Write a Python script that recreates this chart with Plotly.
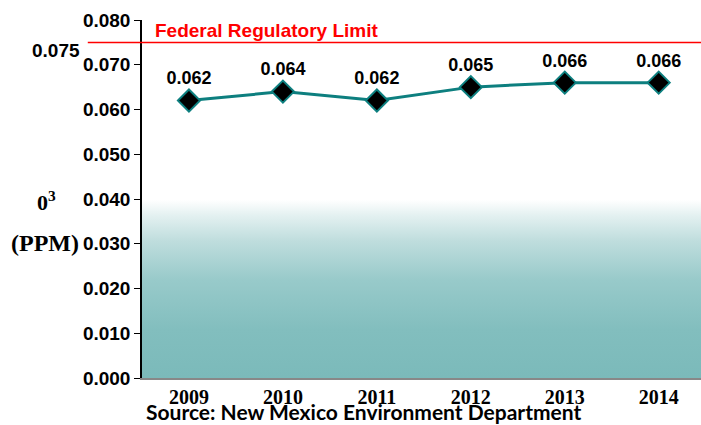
import plotly.graph_objects as go

years = ["2009", "2010", "2011", "2012", "2013", "2014"]
ozone_ppm = [0.062, 0.064, 0.062, 0.065, 0.066, 0.066]
value_labels = ["0.062", "0.064", "0.062", "0.065", "0.066", "0.066"]
limit_value = 0.075
limit_label = "Federal Regulatory Limit"
y_ticks = [0.0, 0.01, 0.02, 0.03, 0.04, 0.05, 0.06, 0.07, 0.08]
y_tick_labels = ["0.000", "0.010", "0.020", "0.030", "0.040", "0.050", "0.060", "0.070", "0.080"]
source_text = "Source: New Mexico Environment Department"

# background gradient band (decoration)
band_top = 0.0398
n = len(years)
x_idx = list(range(n))

fig = go.Figure()

fig.add_trace(go.Scatter(
    x=[-0.5, n - 0.5, n - 0.5, -0.5, -0.5],
    y=[0, 0, band_top, band_top, 0],
    fill="toself",
    mode="none",
    fillgradient=dict(
        type="vertical",
        colorscale=[
            [0.0, "#7bbaba"],
            [0.27, "#82bebe"],
            [0.55, "#98caca"],
            [0.77, "#bfdddd"],
            [0.915, "#e4f1f1"],
            [1.0, "#ffffff"],
        ],
    ),
    hoverinfo="skip",
    showlegend=False,
))

fig.add_trace(go.Scatter(
    x=x_idx,
    y=ozone_ppm,
    mode="lines+markers+text",
    line=dict(color="#0d7f7f", width=3),
    marker=dict(symbol="diamond", size=17, color="black",
                line=dict(color="#0d7f7f", width=2)),
    text=value_labels,
    textposition="top center",
    textfont=dict(family="Liberation Sans", size=18, color="black", weight="bold"),
    hoverinfo="skip",
    showlegend=False,
))

fig.add_shape(type="line", xref="paper", yref="y",
              x0=-0.097, x1=1.0, y0=limit_value, y1=limit_value,
              line=dict(color="#ff0000", width=1.5), layer="above")

fig.add_annotation(text=limit_label, xref="paper", yref="y",
                   x=0.019, y=0.0776, xanchor="left", yanchor="middle",
                   showarrow=False,
                   font=dict(family="Liberation Sans", size=19, color="#ff0000", weight="bold"))

fig.add_annotation(text=f"{limit_value:.3f}", xref="paper", yref="y",
                   x=-0.108, y=0.0731, xanchor="right", yanchor="middle",
                   showarrow=False,
                   font=dict(family="Liberation Sans", size=19, color="black", weight="bold"))

fig.add_annotation(text="0<sup>3</sup>", xref="paper", yref="y",
                   x=-0.17, y=0.0395, xanchor="center", yanchor="middle",
                   showarrow=False,
                   font=dict(family="Liberation Serif", size=22, color="black", weight="bold"))

fig.add_annotation(text="(PPM)", xref="paper", yref="y",
                   x=-0.11, y=0.0302, xanchor="right", yanchor="middle",
                   showarrow=False,
                   font=dict(family="Liberation Serif", size=24, color="black", weight="bold"))

fig.add_annotation(text=source_text, xref="paper", yref="paper",
                   x=0.003, y=-0.094, xanchor="left", yanchor="middle",
                   showarrow=False,
                   font=dict(family="Lato", size=21, color="black", weight="bold"))

fig.update_layout(
    width=701, height=425,
    margin=dict(l=142, r=0, t=20, b=47),
    paper_bgcolor="white",
    plot_bgcolor="white",
    showlegend=False,
    xaxis=dict(
        range=[-0.5, n - 0.55],
        tickvals=x_idx, ticktext=years,
        showgrid=False, zeroline=False,
        showline=True, linecolor="#888888", linewidth=1.5,
        ticks="", ticklabelstandoff=0,
        tickfont=dict(family="Liberation Serif", size=20, color="black", weight="bold"),
        fixedrange=True,
    ),
    yaxis=dict(
        range=[0, 0.08],
        tickvals=y_ticks, ticktext=y_tick_labels,
        showgrid=False, zeroline=False,
        showline=True, linecolor="black", linewidth=1.5,
        ticks="outside", ticklen=6, tickcolor="black",
        tickfont=dict(family="Liberation Sans", size=19, color="black", weight="bold"),
        fixedrange=True,
    ),
)

fig.write_html(
    "out.html",
    config={"displayModeBar": False},
    post_script="document.body.style.margin='0';document.body.style.overflow='hidden';",
)
